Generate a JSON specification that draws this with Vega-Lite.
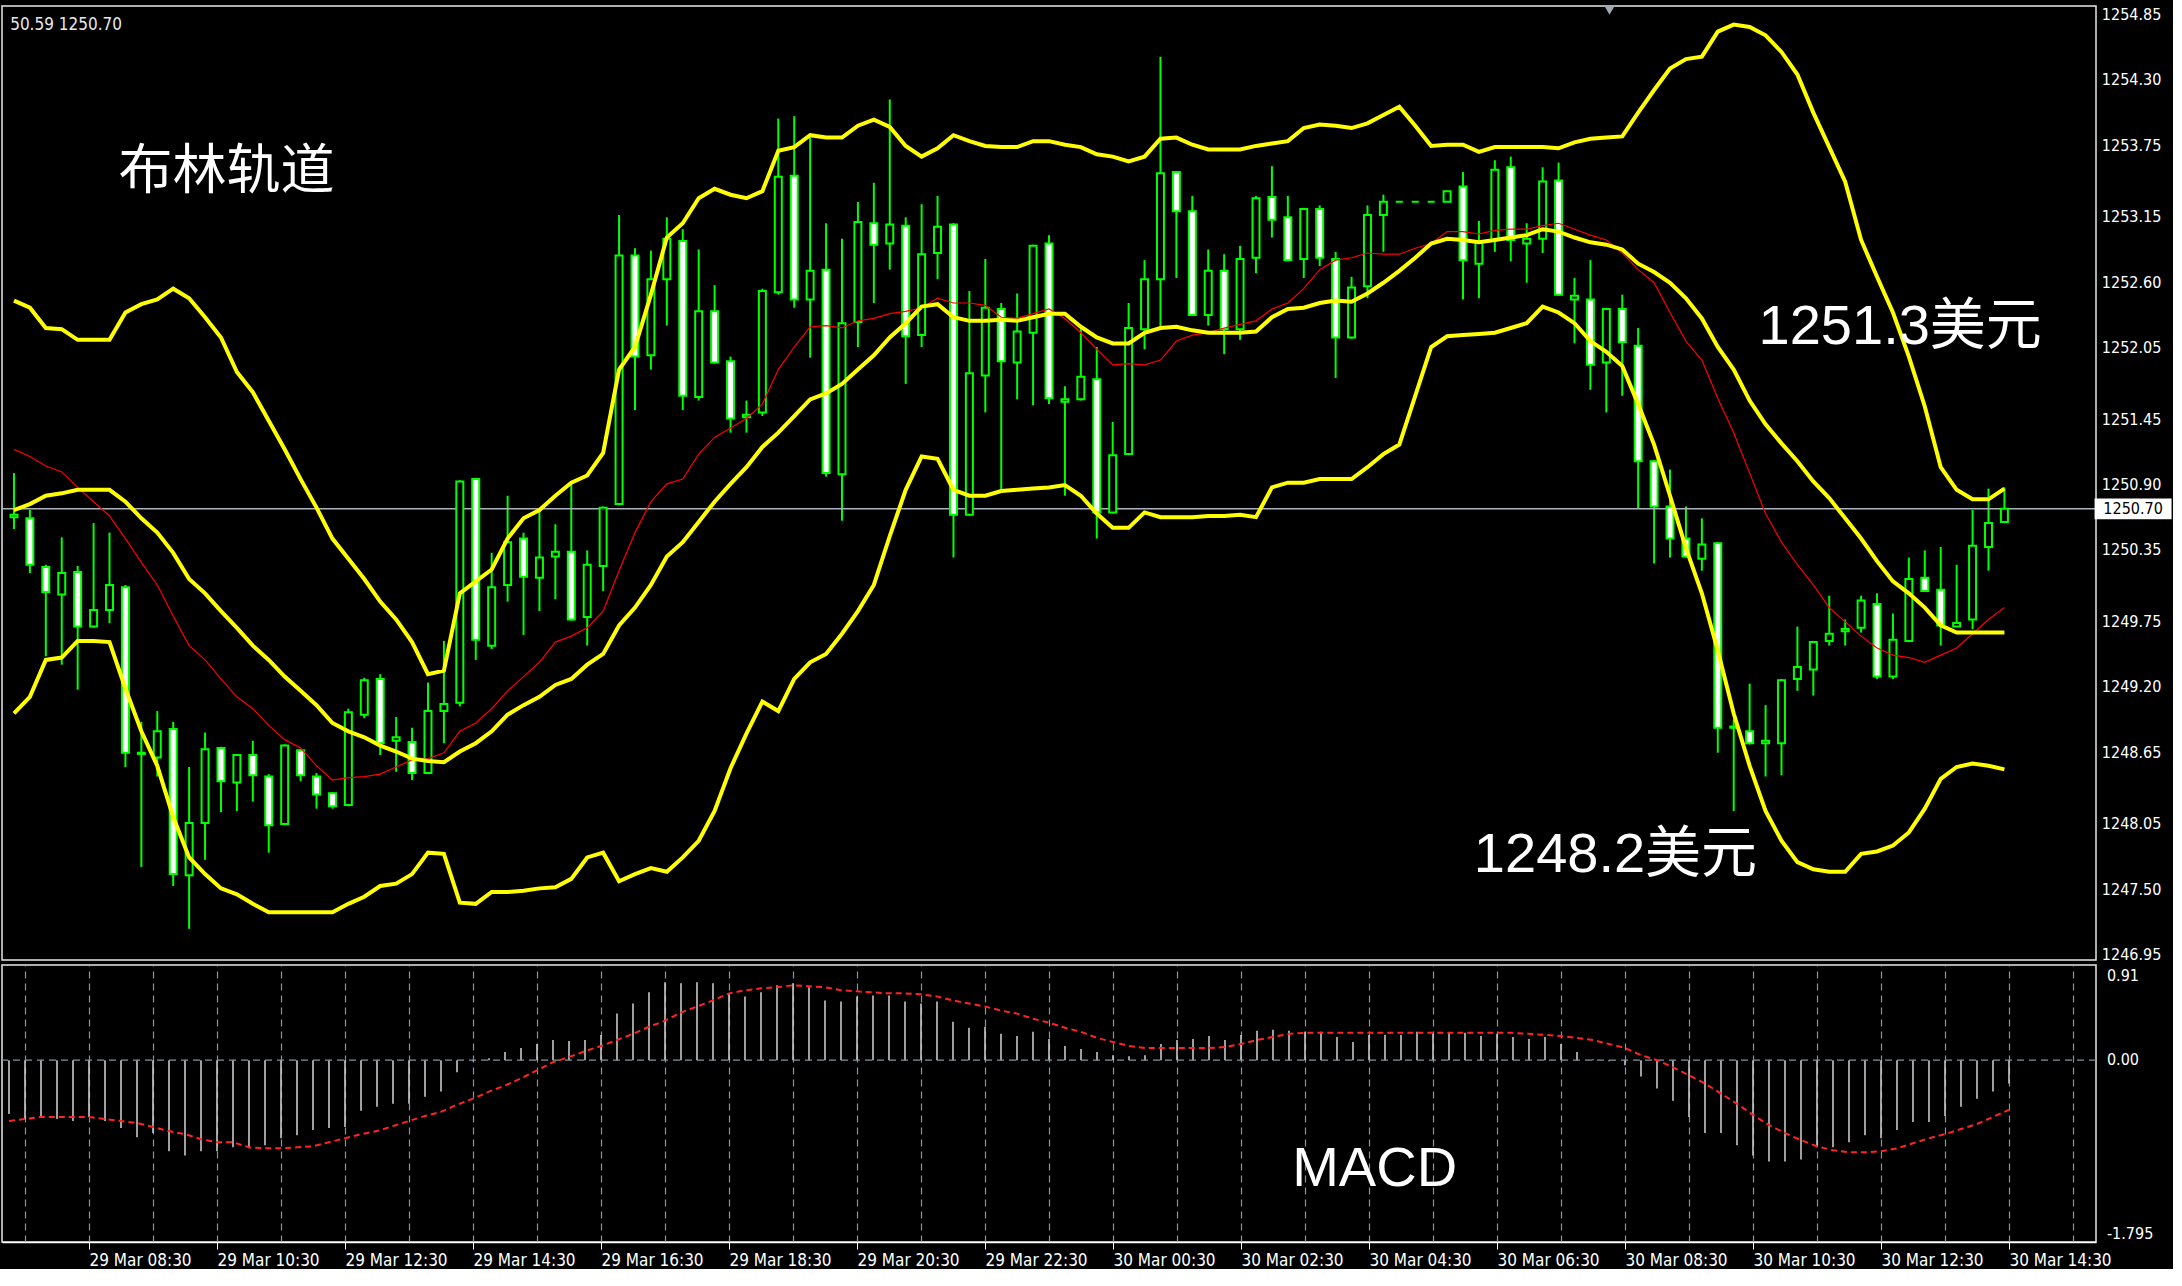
{
  "$schema": "https://vega.github.io/schema/vega-lite/v6.json",
  "background": "#000000",
  "padding": {"left": 0, "top": 4, "right": 0, "bottom": 0},
  "spacing": 5,
  "bounds": "flush",
  "config": {
    "view": {"stroke": "#e8e8e8", "strokeWidth": 1.5},
    "axis": {
      "labelColor": "#ffffff",
      "labelFont": "DejaVu Sans Condensed, DejaVu Sans",
      "labelFontSize": 16,
      "domainColor": "#ffffff",
      "domainWidth": 1.5,
      "tickColor": "#ffffff",
      "gridColor": "#8593a1",
      "gridDash": [7, 5],
      "gridWidth": 1.2
    }
  },
  "datasets": {
    "priceTicks": [
      {"price": 1254.85, "label": "1254.85"},
      {"price": 1254.30, "label": "1254.30"},
      {"price": 1253.75, "label": "1253.75"},
      {"price": 1253.15, "label": "1253.15"},
      {"price": 1252.60, "label": "1252.60"},
      {"price": 1252.05, "label": "1252.05"},
      {"price": 1251.45, "label": "1251.45"},
      {"price": 1250.90, "label": "1250.90"},
      {"price": 1250.35, "label": "1250.35"},
      {"price": 1249.75, "label": "1249.75"},
      {"price": 1249.20, "label": "1249.20"},
      {"price": 1248.65, "label": "1248.65"},
      {"price": 1248.05, "label": "1248.05"},
      {"price": 1247.50, "label": "1247.50"},
      {"price": 1246.95, "label": "1246.95"}
    ],
    "bars": [
      {"hour":7.25,"open":1250.63,"high":1251.00,"low":1250.53,"close":1250.65,"bbUp":1252.45,"bbMid":1250.69,"bbLow":1248.98,"ma":1251.20,"macd":-0.53,"signal":-0.60},
      {"hour":7.5,"open":1250.62,"high":1250.69,"low":1250.16,"close":1250.23,"bbUp":1252.39,"bbMid":1250.74,"bbLow":1249.12,"ma":1251.14,"macd":-0.58,"signal":-0.58},
      {"hour":7.75,"open":1250.21,"high":1250.23,"low":1249.46,"close":1250.00,"bbUp":1252.22,"bbMid":1250.81,"bbLow":1249.43,"ma":1251.06,"macd":-0.56,"signal":-0.56},
      {"hour":8.0,"open":1249.98,"high":1250.46,"low":1249.39,"close":1250.16,"bbUp":1252.21,"bbMid":1250.83,"bbLow":1249.45,"ma":1251.01,"macd":-0.58,"signal":-0.56},
      {"hour":8.25,"open":1250.17,"high":1250.22,"low":1249.18,"close":1249.71,"bbUp":1252.12,"bbMid":1250.86,"bbLow":1249.59,"ma":1250.88,"macd":-0.60,"signal":-0.56},
      {"hour":8.5,"open":1249.71,"high":1250.58,"low":1249.70,"close":1249.85,"bbUp":1252.12,"bbMid":1250.86,"bbLow":1249.59,"ma":1250.76,"macd":-0.56,"signal":-0.56},
      {"hour":8.75,"open":1249.85,"high":1250.50,"low":1249.74,"close":1250.06,"bbUp":1252.12,"bbMid":1250.86,"bbLow":1249.58,"ma":1250.64,"macd":-0.60,"signal":-0.58},
      {"hour":9.0,"open":1250.04,"high":1250.06,"low":1248.53,"close":1248.65,"bbUp":1252.35,"bbMid":1250.76,"bbLow":1249.19,"ma":1250.45,"macd":-0.67,"signal":-0.60},
      {"hour":9.25,"open":1248.64,"high":1248.91,"low":1247.69,"close":1248.65,"bbUp":1252.42,"bbMid":1250.62,"bbLow":1248.83,"ma":1250.25,"macd":-0.76,"signal":-0.62},
      {"hour":9.5,"open":1248.61,"high":1249.00,"low":1248.45,"close":1248.83,"bbUp":1252.46,"bbMid":1250.50,"bbLow":1248.54,"ma":1250.06,"macd":-0.72,"signal":-0.66},
      {"hour":9.75,"open":1248.85,"high":1248.91,"low":1247.53,"close":1247.63,"bbUp":1252.55,"bbMid":1250.33,"bbLow":1248.11,"ma":1249.80,"macd":-0.90,"signal":-0.70},
      {"hour":10.0,"open":1247.62,"high":1248.53,"low":1247.17,"close":1248.06,"bbUp":1252.47,"bbMid":1250.11,"bbLow":1247.77,"ma":1249.55,"macd":-0.94,"signal":-0.73},
      {"hour":10.25,"open":1248.06,"high":1248.82,"low":1247.75,"close":1248.68,"bbUp":1252.31,"bbMid":1249.99,"bbLow":1247.63,"ma":1249.43,"macd":-0.90,"signal":-0.78},
      {"hour":10.5,"open":1248.69,"high":1248.70,"low":1248.15,"close":1248.41,"bbUp":1252.14,"bbMid":1249.84,"bbLow":1247.51,"ma":1249.27,"macd":-0.90,"signal":-0.81},
      {"hour":10.75,"open":1248.40,"high":1248.64,"low":1248.16,"close":1248.63,"bbUp":1251.85,"bbMid":1249.70,"bbLow":1247.46,"ma":1249.12,"macd":-0.86,"signal":-0.81},
      {"hour":11.0,"open":1248.63,"high":1248.75,"low":1248.24,"close":1248.46,"bbUp":1251.68,"bbMid":1249.55,"bbLow":1247.38,"ma":1249.02,"macd":-0.87,"signal":-0.86},
      {"hour":11.25,"open":1248.45,"high":1248.47,"low":1247.81,"close":1248.04,"bbUp":1251.44,"bbMid":1249.43,"bbLow":1247.31,"ma":1248.88,"macd":-0.84,"signal":-0.87},
      {"hour":11.5,"open":1248.05,"high":1248.72,"low":1248.04,"close":1248.71,"bbUp":1251.20,"bbMid":1249.29,"bbLow":1247.31,"ma":1248.76,"macd":-0.77,"signal":-0.87},
      {"hour":11.75,"open":1248.67,"high":1248.68,"low":1248.41,"close":1248.46,"bbUp":1250.95,"bbMid":1249.17,"bbLow":1247.31,"ma":1248.69,"macd":-0.74,"signal":-0.86},
      {"hour":12.0,"open":1248.45,"high":1248.48,"low":1248.18,"close":1248.30,"bbUp":1250.71,"bbMid":1249.05,"bbLow":1247.31,"ma":1248.54,"macd":-0.69,"signal":-0.85},
      {"hour":12.25,"open":1248.31,"high":1248.32,"low":1248.18,"close":1248.20,"bbUp":1250.45,"bbMid":1248.90,"bbLow":1247.31,"ma":1248.42,"macd":-0.67,"signal":-0.81},
      {"hour":12.5,"open":1248.21,"high":1249.02,"low":1248.20,"close":1248.99,"bbUp":1250.28,"bbMid":1248.83,"bbLow":1247.38,"ma":1248.44,"macd":-0.66,"signal":-0.77},
      {"hour":12.75,"open":1248.97,"high":1249.28,"low":1248.94,"close":1249.26,"bbUp":1250.11,"bbMid":1248.78,"bbLow":1247.44,"ma":1248.45,"macd":-0.50,"signal":-0.73},
      {"hour":13.0,"open":1249.27,"high":1249.31,"low":1248.63,"close":1248.73,"bbUp":1249.92,"bbMid":1248.71,"bbLow":1247.53,"ma":1248.47,"macd":-0.46,"signal":-0.70},
      {"hour":13.25,"open":1248.75,"high":1248.95,"low":1248.49,"close":1248.78,"bbUp":1249.77,"bbMid":1248.66,"bbLow":1247.55,"ma":1248.53,"macd":-0.43,"signal":-0.65},
      {"hour":13.5,"open":1248.74,"high":1248.86,"low":1248.42,"close":1248.48,"bbUp":1249.58,"bbMid":1248.60,"bbLow":1247.63,"ma":1248.59,"macd":-0.43,"signal":-0.60},
      {"hour":13.75,"open":1248.48,"high":1249.24,"low":1248.47,"close":1249.00,"bbUp":1249.31,"bbMid":1248.58,"bbLow":1247.81,"ma":1248.60,"macd":-0.36,"signal":-0.55},
      {"hour":14.0,"open":1249.00,"high":1249.59,"low":1248.73,"close":1249.06,"bbUp":1249.34,"bbMid":1248.57,"bbLow":1247.80,"ma":1248.65,"macd":-0.31,"signal":-0.51},
      {"hour":14.25,"open":1249.07,"high":1250.94,"low":1249.04,"close":1250.93,"bbUp":1249.99,"bbMid":1248.66,"bbLow":1247.39,"ma":1248.83,"macd":-0.12,"signal":-0.44},
      {"hour":14.5,"open":1250.95,"high":1250.96,"low":1249.43,"close":1249.60,"bbUp":1250.09,"bbMid":1248.73,"bbLow":1247.38,"ma":1248.90,"macd":-0.01,"signal":-0.38},
      {"hour":14.75,"open":1249.55,"high":1250.33,"low":1249.52,"close":1250.04,"bbUp":1250.19,"bbMid":1248.83,"bbLow":1247.48,"ma":1249.02,"macd":0.02,"signal":-0.31},
      {"hour":15.0,"open":1250.06,"high":1250.81,"low":1249.92,"close":1250.42,"bbUp":1250.45,"bbMid":1248.97,"bbLow":1247.48,"ma":1249.17,"macd":0.08,"signal":-0.25},
      {"hour":15.25,"open":1250.45,"high":1250.50,"low":1249.64,"close":1250.13,"bbUp":1250.62,"bbMid":1249.05,"bbLow":1247.49,"ma":1249.29,"macd":0.12,"signal":-0.18},
      {"hour":15.5,"open":1250.12,"high":1250.70,"low":1249.84,"close":1250.29,"bbUp":1250.69,"bbMid":1249.12,"bbLow":1247.51,"ma":1249.41,"macd":0.16,"signal":-0.10},
      {"hour":15.75,"open":1250.30,"high":1250.57,"low":1249.94,"close":1250.34,"bbUp":1250.81,"bbMid":1249.22,"bbLow":1247.52,"ma":1249.58,"macd":0.20,"signal":-0.02},
      {"hour":16.0,"open":1250.34,"high":1250.93,"low":1249.76,"close":1249.77,"bbUp":1250.92,"bbMid":1249.27,"bbLow":1247.59,"ma":1249.63,"macd":0.19,"signal":0.03},
      {"hour":16.25,"open":1249.79,"high":1250.35,"low":1249.55,"close":1250.23,"bbUp":1250.98,"bbMid":1249.39,"bbLow":1247.77,"ma":1249.70,"macd":0.20,"signal":0.09},
      {"hour":16.5,"open":1250.22,"high":1250.72,"low":1250.01,"close":1250.71,"bbUp":1251.17,"bbMid":1249.48,"bbLow":1247.81,"ma":1249.84,"macd":0.25,"signal":0.14},
      {"hour":16.75,"open":1250.74,"high":1253.17,"low":1250.73,"close":1252.83,"bbUp":1251.87,"bbMid":1249.72,"bbLow":1247.57,"ma":1250.18,"macd":0.46,"signal":0.20},
      {"hour":17.0,"open":1252.83,"high":1252.89,"low":1251.53,"close":1251.98,"bbUp":1252.06,"bbMid":1249.87,"bbLow":1247.63,"ma":1250.50,"macd":0.56,"signal":0.26},
      {"hour":17.25,"open":1251.99,"high":1252.87,"low":1251.87,"close":1252.63,"bbUp":1252.50,"bbMid":1250.06,"bbLow":1247.68,"ma":1250.76,"macd":0.67,"signal":0.33},
      {"hour":17.5,"open":1252.63,"high":1253.15,"low":1252.24,"close":1252.97,"bbUp":1252.98,"bbMid":1250.30,"bbLow":1247.65,"ma":1250.91,"macd":0.77,"signal":0.39},
      {"hour":17.75,"open":1252.95,"high":1253.05,"low":1251.53,"close":1251.65,"bbUp":1253.10,"bbMid":1250.42,"bbLow":1247.77,"ma":1250.95,"macd":0.76,"signal":0.47},
      {"hour":18.0,"open":1251.64,"high":1252.88,"low":1251.61,"close":1252.36,"bbUp":1253.31,"bbMid":1250.59,"bbLow":1247.91,"ma":1251.16,"macd":0.77,"signal":0.53},
      {"hour":18.25,"open":1252.36,"high":1252.58,"low":1251.92,"close":1251.93,"bbUp":1253.39,"bbMid":1250.76,"bbLow":1248.16,"ma":1251.30,"macd":0.76,"signal":0.59},
      {"hour":18.5,"open":1251.94,"high":1251.98,"low":1251.34,"close":1251.46,"bbUp":1253.34,"bbMid":1250.91,"bbLow":1248.52,"ma":1251.38,"macd":0.66,"signal":0.66},
      {"hour":18.75,"open":1251.47,"high":1251.61,"low":1251.34,"close":1251.49,"bbUp":1253.31,"bbMid":1251.05,"bbLow":1248.81,"ma":1251.46,"macd":0.63,"signal":0.69},
      {"hour":19.0,"open":1251.51,"high":1252.55,"low":1251.48,"close":1252.53,"bbUp":1253.37,"bbMid":1251.22,"bbLow":1249.08,"ma":1251.58,"macd":0.67,"signal":0.71},
      {"hour":19.25,"open":1252.52,"high":1253.98,"low":1252.50,"close":1253.49,"bbUp":1253.71,"bbMid":1251.34,"bbLow":1249.00,"ma":1251.87,"macd":0.74,"signal":0.72},
      {"hour":19.5,"open":1253.50,"high":1254.00,"low":1252.39,"close":1252.46,"bbUp":1253.74,"bbMid":1251.48,"bbLow":1249.27,"ma":1252.06,"macd":0.76,"signal":0.74},
      {"hour":19.75,"open":1252.46,"high":1253.82,"low":1251.97,"close":1252.70,"bbUp":1253.84,"bbMid":1251.62,"bbLow":1249.41,"ma":1252.23,"macd":0.72,"signal":0.73},
      {"hour":20.0,"open":1252.71,"high":1253.10,"low":1250.97,"close":1251.00,"bbUp":1253.82,"bbMid":1251.67,"bbLow":1249.48,"ma":1252.24,"macd":0.59,"signal":0.72},
      {"hour":20.25,"open":1250.99,"high":1252.97,"low":1250.60,"close":1252.26,"bbUp":1253.82,"bbMid":1251.75,"bbLow":1249.65,"ma":1252.22,"macd":0.58,"signal":0.69},
      {"hour":20.5,"open":1252.27,"high":1253.28,"low":1252.06,"close":1253.11,"bbUp":1253.92,"bbMid":1251.87,"bbLow":1249.84,"ma":1252.28,"macd":0.63,"signal":0.68},
      {"hour":20.75,"open":1253.10,"high":1253.44,"low":1252.43,"close":1252.92,"bbUp":1253.97,"bbMid":1251.99,"bbLow":1250.06,"ma":1252.30,"macd":0.64,"signal":0.67},
      {"hour":21.0,"open":1252.93,"high":1254.14,"low":1252.71,"close":1253.09,"bbUp":1253.91,"bbMid":1252.14,"bbLow":1250.47,"ma":1252.34,"macd":0.64,"signal":0.66},
      {"hour":21.25,"open":1253.08,"high":1253.15,"low":1251.75,"close":1252.15,"bbUp":1253.75,"bbMid":1252.26,"bbLow":1250.86,"ma":1252.36,"macd":0.58,"signal":0.66},
      {"hour":21.5,"open":1252.16,"high":1253.26,"low":1252.06,"close":1252.84,"bbUp":1253.66,"bbMid":1252.40,"bbLow":1251.14,"ma":1252.39,"macd":0.56,"signal":0.65},
      {"hour":21.75,"open":1252.85,"high":1253.33,"low":1252.63,"close":1253.07,"bbUp":1253.73,"bbMid":1252.42,"bbLow":1251.12,"ma":1252.47,"macd":0.58,"signal":0.63},
      {"hour":22.0,"open":1253.09,"high":1253.10,"low":1250.29,"close":1250.65,"bbUp":1253.84,"bbMid":1252.31,"bbLow":1250.86,"ma":1252.43,"macd":0.38,"signal":0.59},
      {"hour":22.25,"open":1250.65,"high":1252.53,"low":1250.64,"close":1251.84,"bbUp":1253.79,"bbMid":1252.28,"bbLow":1250.81,"ma":1252.43,"macd":0.32,"signal":0.56},
      {"hour":22.5,"open":1251.82,"high":1252.80,"low":1251.51,"close":1252.39,"bbUp":1253.75,"bbMid":1252.28,"bbLow":1250.81,"ma":1252.41,"macd":0.33,"signal":0.53},
      {"hour":22.75,"open":1252.38,"high":1252.43,"low":1250.86,"close":1251.94,"bbUp":1253.74,"bbMid":1252.29,"bbLow":1250.85,"ma":1252.31,"macd":0.26,"signal":0.49},
      {"hour":23.0,"open":1251.93,"high":1252.51,"low":1251.62,"close":1252.19,"bbUp":1253.74,"bbMid":1252.28,"bbLow":1250.86,"ma":1252.30,"macd":0.24,"signal":0.46},
      {"hour":23.25,"open":1252.18,"high":1252.92,"low":1251.57,"close":1252.91,"bbUp":1253.79,"bbMid":1252.31,"bbLow":1250.87,"ma":1252.34,"macd":0.28,"signal":0.41},
      {"hour":23.5,"open":1252.93,"high":1253.00,"low":1251.58,"close":1251.63,"bbUp":1253.79,"bbMid":1252.34,"bbLow":1250.88,"ma":1252.38,"macd":0.21,"signal":0.37},
      {"hour":23.75,"open":1251.60,"high":1251.73,"low":1250.81,"close":1251.62,"bbUp":1253.76,"bbMid":1252.34,"bbLow":1250.90,"ma":1252.30,"macd":0.14,"signal":0.32},
      {"hour":24.0,"open":1251.62,"high":1252.21,"low":1251.61,"close":1251.81,"bbUp":1253.74,"bbMid":1252.23,"bbLow":1250.81,"ma":1252.18,"macd":0.11,"signal":0.28},
      {"hour":24.25,"open":1251.79,"high":1252.06,"low":1250.45,"close":1250.67,"bbUp":1253.68,"bbMid":1252.14,"bbLow":1250.66,"ma":1252.04,"macd":0.08,"signal":0.22},
      {"hour":24.5,"open":1250.67,"high":1251.43,"low":1250.66,"close":1251.15,"bbUp":1253.66,"bbMid":1252.09,"bbLow":1250.54,"ma":1251.91,"macd":0.05,"signal":0.18},
      {"hour":24.75,"open":1251.16,"high":1252.43,"low":1251.15,"close":1252.22,"bbUp":1253.62,"bbMid":1252.09,"bbLow":1250.54,"ma":1251.92,"macd":0.04,"signal":0.14},
      {"hour":25.0,"open":1252.21,"high":1252.79,"low":1252.04,"close":1252.63,"bbUp":1253.66,"bbMid":1252.18,"bbLow":1250.67,"ma":1251.91,"macd":0.05,"signal":0.12},
      {"hour":25.25,"open":1252.63,"high":1254.50,"low":1252.23,"close":1253.52,"bbUp":1253.81,"bbMid":1252.22,"bbLow":1250.63,"ma":1251.95,"macd":0.16,"signal":0.12},
      {"hour":25.5,"open":1253.53,"high":1253.54,"low":1252.64,"close":1253.20,"bbUp":1253.82,"bbMid":1252.23,"bbLow":1250.63,"ma":1252.11,"macd":0.20,"signal":0.12},
      {"hour":25.75,"open":1253.20,"high":1253.33,"low":1252.32,"close":1252.33,"bbUp":1253.76,"bbMid":1252.20,"bbLow":1250.63,"ma":1252.16,"macd":0.21,"signal":0.12},
      {"hour":26.0,"open":1252.33,"high":1252.88,"low":1252.24,"close":1252.70,"bbUp":1253.72,"bbMid":1252.18,"bbLow":1250.64,"ma":1252.18,"macd":0.24,"signal":0.12},
      {"hour":26.25,"open":1252.70,"high":1252.84,"low":1252.00,"close":1252.21,"bbUp":1253.72,"bbMid":1252.18,"bbLow":1250.64,"ma":1252.22,"macd":0.20,"signal":0.13},
      {"hour":26.5,"open":1252.21,"high":1252.91,"low":1252.12,"close":1252.80,"bbUp":1253.72,"bbMid":1252.18,"bbLow":1250.65,"ma":1252.25,"macd":0.25,"signal":0.16},
      {"hour":26.75,"open":1252.81,"high":1253.33,"low":1252.68,"close":1253.31,"bbUp":1253.75,"bbMid":1252.19,"bbLow":1250.63,"ma":1252.28,"macd":0.29,"signal":0.20},
      {"hour":27.0,"open":1253.32,"high":1253.58,"low":1252.98,"close":1253.13,"bbUp":1253.77,"bbMid":1252.31,"bbLow":1250.88,"ma":1252.38,"macd":0.30,"signal":0.23},
      {"hour":27.25,"open":1253.15,"high":1253.33,"low":1252.78,"close":1252.79,"bbUp":1253.79,"bbMid":1252.38,"bbLow":1250.92,"ma":1252.43,"macd":0.29,"signal":0.26},
      {"hour":27.5,"open":1252.80,"high":1253.23,"low":1252.64,"close":1253.22,"bbUp":1253.90,"bbMid":1252.39,"bbLow":1250.92,"ma":1252.55,"macd":0.28,"signal":0.27},
      {"hour":27.75,"open":1253.22,"high":1253.25,"low":1252.74,"close":1252.81,"bbUp":1253.93,"bbMid":1252.43,"bbLow":1250.95,"ma":1252.71,"macd":0.28,"signal":0.27},
      {"hour":28.0,"open":1252.80,"high":1252.86,"low":1251.80,"close":1252.14,"bbUp":1253.92,"bbMid":1252.45,"bbLow":1250.95,"ma":1252.79,"macd":0.23,"signal":0.27},
      {"hour":28.25,"open":1252.14,"high":1252.65,"low":1252.13,"close":1252.56,"bbUp":1253.90,"bbMid":1252.44,"bbLow":1250.95,"ma":1252.81,"macd":0.18,"signal":0.27},
      {"hour":28.5,"open":1252.57,"high":1253.25,"low":1252.47,"close":1253.17,"bbUp":1253.94,"bbMid":1252.51,"bbLow":1251.05,"ma":1252.85,"macd":0.25,"signal":0.27},
      {"hour":28.75,"open":1253.17,"high":1253.34,"low":1252.86,"close":1253.28,"bbUp":1254.01,"bbMid":1252.60,"bbLow":1251.16,"ma":1252.84,"macd":0.25,"signal":0.27},
      {"hour":29.0,"open":1253.28,"high":1253.28,"low":1253.28,"close":1253.28,"bbUp":1254.08,"bbMid":1252.70,"bbLow":1251.24,"ma":1252.84,"macd":0.25,"signal":0.27},
      {"hour":29.25,"open":1253.28,"high":1253.28,"low":1253.28,"close":1253.28,"bbUp":1253.92,"bbMid":1252.81,"bbLow":1251.65,"ma":1252.89,"macd":0.28,"signal":0.27},
      {"hour":29.5,"open":1253.28,"high":1253.28,"low":1253.28,"close":1253.28,"bbUp":1253.75,"bbMid":1252.93,"bbLow":1252.06,"ma":1252.93,"macd":0.26,"signal":0.27},
      {"hour":29.75,"open":1253.28,"high":1253.37,"low":1253.28,"close":1253.37,"bbUp":1253.76,"bbMid":1252.97,"bbLow":1252.15,"ma":1253.03,"macd":0.27,"signal":0.27},
      {"hour":30.0,"open":1253.41,"high":1253.53,"low":1252.46,"close":1252.79,"bbUp":1253.76,"bbMid":1252.96,"bbLow":1252.16,"ma":1253.03,"macd":0.27,"signal":0.27},
      {"hour":30.25,"open":1252.76,"high":1253.12,"low":1252.47,"close":1252.94,"bbUp":1253.70,"bbMid":1252.94,"bbLow":1252.17,"ma":1253.01,"macd":0.24,"signal":0.27},
      {"hour":30.5,"open":1252.96,"high":1253.63,"low":1252.86,"close":1253.55,"bbUp":1253.74,"bbMid":1252.96,"bbLow":1252.18,"ma":1253.04,"macd":0.26,"signal":0.27},
      {"hour":30.75,"open":1253.57,"high":1253.66,"low":1252.78,"close":1252.96,"bbUp":1253.74,"bbMid":1252.98,"bbLow":1252.22,"ma":1253.05,"macd":0.23,"signal":0.27},
      {"hour":31.0,"open":1252.93,"high":1253.10,"low":1252.60,"close":1252.97,"bbUp":1253.74,"bbMid":1253.00,"bbLow":1252.26,"ma":1253.05,"macd":0.21,"signal":0.26},
      {"hour":31.25,"open":1252.97,"high":1253.57,"low":1252.85,"close":1253.45,"bbUp":1253.74,"bbMid":1253.05,"bbLow":1252.40,"ma":1253.08,"macd":0.23,"signal":0.25},
      {"hour":31.5,"open":1253.46,"high":1253.61,"low":1252.49,"close":1252.50,"bbUp":1253.73,"bbMid":1253.03,"bbLow":1252.35,"ma":1253.10,"macd":0.16,"signal":0.24},
      {"hour":31.75,"open":1252.46,"high":1252.64,"low":1252.09,"close":1252.49,"bbUp":1253.78,"bbMid":1252.98,"bbLow":1252.26,"ma":1253.05,"macd":0.08,"signal":0.22},
      {"hour":32.0,"open":1252.46,"high":1252.79,"low":1251.70,"close":1251.91,"bbUp":1253.81,"bbMid":1252.94,"bbLow":1252.11,"ma":1253.00,"macd":0.01,"signal":0.20},
      {"hour":32.25,"open":1251.93,"high":1252.39,"low":1251.51,"close":1252.38,"bbUp":1253.82,"bbMid":1252.92,"bbLow":1252.02,"ma":1252.96,"macd":-0.01,"signal":0.16},
      {"hour":32.5,"open":1252.38,"high":1252.50,"low":1251.65,"close":1252.10,"bbUp":1253.83,"bbMid":1252.88,"bbLow":1251.90,"ma":1252.85,"macd":-0.05,"signal":0.12},
      {"hour":32.75,"open":1252.07,"high":1252.22,"low":1250.70,"close":1251.10,"bbUp":1254.03,"bbMid":1252.76,"bbLow":1251.58,"ma":1252.71,"macd":-0.16,"signal":0.05},
      {"hour":33.0,"open":1251.10,"high":1251.11,"low":1250.24,"close":1250.72,"bbUp":1254.22,"bbMid":1252.69,"bbLow":1251.24,"ma":1252.60,"macd":-0.28,"signal":0.00},
      {"hour":33.25,"open":1250.72,"high":1251.03,"low":1250.29,"close":1250.45,"bbUp":1254.40,"bbMid":1252.60,"bbLow":1250.81,"ma":1252.35,"macd":-0.40,"signal":-0.07},
      {"hour":33.5,"open":1250.45,"high":1250.72,"low":1250.29,"close":1250.30,"bbUp":1254.48,"bbMid":1252.47,"bbLow":1250.37,"ma":1252.11,"macd":-0.56,"signal":-0.15},
      {"hour":33.75,"open":1250.28,"high":1250.62,"low":1250.18,"close":1250.40,"bbUp":1254.50,"bbMid":1252.30,"bbLow":1249.99,"ma":1251.95,"macd":-0.72,"signal":-0.23},
      {"hour":34.0,"open":1250.41,"high":1250.42,"low":1248.65,"close":1248.86,"bbUp":1254.71,"bbMid":1252.06,"bbLow":1249.51,"ma":1251.63,"macd":-0.72,"signal":-0.33},
      {"hour":34.25,"open":1248.86,"high":1248.93,"low":1248.16,"close":1248.87,"bbUp":1254.77,"bbMid":1251.87,"bbLow":1248.98,"ma":1251.34,"macd":-0.84,"signal":-0.43},
      {"hour":34.5,"open":1248.83,"high":1249.23,"low":1248.72,"close":1248.73,"bbUp":1254.75,"bbMid":1251.61,"bbLow":1248.54,"ma":1251.00,"macd":-0.94,"signal":-0.54},
      {"hour":34.75,"open":1248.73,"high":1249.05,"low":1248.45,"close":1248.75,"bbUp":1254.68,"bbMid":1251.41,"bbLow":1248.16,"ma":1250.66,"macd":-1.00,"signal":-0.64},
      {"hour":35.0,"open":1248.73,"high":1249.27,"low":1248.46,"close":1249.26,"bbUp":1254.54,"bbMid":1251.25,"bbLow":1247.91,"ma":1250.42,"macd":-1.00,"signal":-0.72},
      {"hour":35.25,"open":1249.27,"high":1249.71,"low":1249.17,"close":1249.37,"bbUp":1254.35,"bbMid":1251.10,"bbLow":1247.73,"ma":1250.23,"macd":-0.98,"signal":-0.79},
      {"hour":35.5,"open":1249.35,"high":1249.59,"low":1249.13,"close":1249.58,"bbUp":1254.03,"bbMid":1250.93,"bbLow":1247.67,"ma":1250.06,"macd":-0.86,"signal":-0.85},
      {"hour":35.75,"open":1249.59,"high":1249.97,"low":1249.55,"close":1249.65,"bbUp":1253.74,"bbMid":1250.79,"bbLow":1247.65,"ma":1249.87,"macd":-0.86,"signal":-0.89},
      {"hour":36.0,"open":1249.67,"high":1249.77,"low":1249.55,"close":1249.69,"bbUp":1253.45,"bbMid":1250.62,"bbLow":1247.65,"ma":1249.75,"macd":-0.81,"signal":-0.91},
      {"hour":36.25,"open":1249.70,"high":1249.97,"low":1249.66,"close":1249.93,"bbUp":1252.96,"bbMid":1250.45,"bbLow":1247.80,"ma":1249.63,"macd":-0.74,"signal":-0.91},
      {"hour":36.5,"open":1249.90,"high":1249.99,"low":1249.27,"close":1249.29,"bbUp":1252.65,"bbMid":1250.26,"bbLow":1247.82,"ma":1249.53,"macd":-0.77,"signal":-0.90},
      {"hour":36.75,"open":1249.29,"high":1249.82,"low":1249.27,"close":1249.60,"bbUp":1252.35,"bbMid":1250.09,"bbLow":1247.87,"ma":1249.47,"macd":-0.69,"signal":-0.87},
      {"hour":37.0,"open":1249.59,"high":1250.29,"low":1249.59,"close":1250.11,"bbUp":1251.98,"bbMid":1249.99,"bbLow":1247.98,"ma":1249.45,"macd":-0.61,"signal":-0.82},
      {"hour":37.25,"open":1250.12,"high":1250.35,"low":1250.01,"close":1250.01,"bbUp":1251.56,"bbMid":1249.87,"bbLow":1248.18,"ma":1249.41,"macd":-0.61,"signal":-0.77},
      {"hour":37.5,"open":1250.02,"high":1250.38,"low":1249.55,"close":1249.72,"bbUp":1251.05,"bbMid":1249.72,"bbLow":1248.43,"ma":1249.47,"macd":-0.55,"signal":-0.73},
      {"hour":37.75,"open":1249.71,"high":1250.23,"low":1249.71,"close":1249.74,"bbUp":1250.86,"bbMid":1249.66,"bbLow":1248.53,"ma":1249.53,"macd":-0.46,"signal":-0.68},
      {"hour":38.0,"open":1249.77,"high":1250.69,"low":1249.69,"close":1250.39,"bbUp":1250.78,"bbMid":1249.66,"bbLow":1248.56,"ma":1249.65,"macd":-0.38,"signal":-0.63},
      {"hour":38.25,"open":1250.38,"high":1250.87,"low":1250.18,"close":1250.58,"bbUp":1250.78,"bbMid":1249.66,"bbLow":1248.54,"ma":1249.77,"macd":-0.31,"signal":-0.56},
      {"hour":38.5,"open":1250.59,"high":1250.88,"low":1250.58,"close":1250.70,"bbUp":1250.87,"bbMid":1249.66,"bbLow":1248.51,"ma":1249.87,"macd":-0.23,"signal":-0.49}
    ]
  },
  "vconcat": [
    {
      "width": 2094,
      "height": 954,
      "data": {"name": "bars"},
      "layer": [
        {
          "mark": {"type": "rule", "color": "#00ff00", "strokeWidth": 2},
          "encoding": {
            "x": {"field": "hour", "type": "quantitative", "scale": {"domain": [7.1406, 39.8594], "nice": false, "zero": false},
              "axis": {"orient": "top", "values": [7.5,8.5,9.5,10.5,11.5,12.5,13.5,14.5,15.5,16.5,17.5,18.5,19.5,20.5,21.5,22.5,23.5,24.5,25.5,26.5,27.5,28.5,29.5,30.5,31.5,32.5,33.5,34.5,35.5,36.5,37.5,38.5,39.5], "grid": true, "labels": false, "ticks": false, "domain": false, "title": null}},
            "y": {"field": "low", "type": "quantitative", "scale": {"domain": [1246.908, 1254.926], "nice": false, "zero": false},
              "axis": {"orient": "right", "values": [1254.85,1254.30,1253.75,1253.15,1252.60,1252.05,1251.45,1250.90,1250.35,1249.75,1249.20,1248.65,1248.05,1247.50,1246.95], "grid": true, "labels": false, "ticks": true, "tickSize": 6, "domain": true, "title": null}},
            "y2": {"field": "high"}
          }
        },
        {
          "data": {"values": [{"price": 1250.70}]},
          "mark": {"type": "rule", "color": "#aab4be", "strokeWidth": 1.5},
          "encoding": {
            "y": {"field": "price", "type": "quantitative", "scale": {"domain": [1246.908, 1254.926], "nice": false, "zero": false}, "axis": null}
          }
        },
        {
          "mark": {"type": "bar", "size": 7, "stroke": "#00ff00", "strokeWidth": 2},
          "encoding": {
            "x": {"field": "hour", "type": "quantitative", "scale": {"domain": [7.1406, 39.8594], "nice": false, "zero": false}, "axis": null},
            "y": {"field": "open", "type": "quantitative", "scale": {"domain": [1246.908, 1254.926], "nice": false, "zero": false}, "axis": null},
            "y2": {"field": "close"},
            "fill": {"condition": {"test": "datum.open > datum.close", "value": "#ffffff"}, "value": "#000000"}
          }
        },
        {
          "mark": {"type": "line", "color": "#ff0000", "strokeWidth": 1.2},
          "encoding": {
            "x": {"field": "hour", "type": "quantitative", "scale": {"domain": [7.1406, 39.8594], "nice": false, "zero": false}, "axis": null},
            "y": {"field": "ma", "type": "quantitative", "scale": {"domain": [1246.908, 1254.926], "nice": false, "zero": false}, "axis": null}
          }
        },
        {
          "mark": {"type": "line", "color": "#ffff00", "strokeWidth": 4},
          "encoding": {
            "x": {"field": "hour", "type": "quantitative", "scale": {"domain": [7.1406, 39.8594], "nice": false, "zero": false}, "axis": null},
            "y": {"field": "bbUp", "type": "quantitative", "scale": {"domain": [1246.908, 1254.926], "nice": false, "zero": false}, "axis": null}
          }
        },
        {
          "mark": {"type": "line", "color": "#ffff00", "strokeWidth": 4},
          "encoding": {
            "x": {"field": "hour", "type": "quantitative", "scale": {"domain": [7.1406, 39.8594], "nice": false, "zero": false}, "axis": null},
            "y": {"field": "bbMid", "type": "quantitative", "scale": {"domain": [1246.908, 1254.926], "nice": false, "zero": false}, "axis": null}
          }
        },
        {
          "mark": {"type": "line", "color": "#ffff00", "strokeWidth": 4},
          "encoding": {
            "x": {"field": "hour", "type": "quantitative", "scale": {"domain": [7.1406, 39.8594], "nice": false, "zero": false}, "axis": null},
            "y": {"field": "bbLow", "type": "quantitative", "scale": {"domain": [1246.908, 1254.926], "nice": false, "zero": false}, "axis": null}
          }
        },
        {
          "data": {"name": "priceTicks"},
          "mark": {"type": "text", "align": "left", "baseline": "middle", "font": "DejaVu Sans Condensed, DejaVu Sans", "fontSize": 16, "color": "#ffffff", "clip": false},
          "encoding": {
            "x": {"datum": 40.03, "type": "quantitative", "scale": {"domain": [7.1406, 39.8594], "nice": false, "zero": false}, "axis": null},
            "y": {"field": "price", "type": "quantitative", "scale": {"domain": [1246.908, 1254.926], "nice": false, "zero": false}, "axis": null},
            "text": {"field": "label"}
          }
        },
        {
          "data": {"values": [{"label": "布林轨道", "hour": 8.89, "price": 1253.52}]},
          "mark": {"type": "text", "align": "left", "baseline": "middle", "font": "Noto Sans CJK SC", "fontSize": 54, "color": "#ffffff"},
          "encoding": {
            "x": {"field": "hour", "type": "quantitative", "scale": {"domain": [7.1406, 39.8594], "nice": false, "zero": false}, "axis": null},
            "y": {"field": "price", "type": "quantitative", "scale": {"domain": [1246.908, 1254.926], "nice": false, "zero": false}, "axis": null},
            "text": {"field": "label"}
          }
        },
        {
          "data": {"values": [{"label": "1251.3美元", "hour": 34.64, "price": 1252.23}, {"label": "1248.2美元", "hour": 30.17, "price": 1247.79}]},
          "mark": {"type": "text", "align": "left", "baseline": "middle", "font": "Liberation Sans, Noto Sans CJK SC", "fontSize": 56, "color": "#ffffff"},
          "encoding": {
            "x": {"field": "hour", "type": "quantitative", "scale": {"domain": [7.1406, 39.8594], "nice": false, "zero": false}, "axis": null},
            "y": {"field": "price", "type": "quantitative", "scale": {"domain": [1246.908, 1254.926], "nice": false, "zero": false}, "axis": null},
            "text": {"field": "label"}
          }
        },
        {
          "data": {"values": [{"label": "50.59 1250.70", "hour": 7.19, "price": 1254.77}]},
          "mark": {"type": "text", "align": "left", "baseline": "middle", "font": "DejaVu Sans Condensed, DejaVu Sans", "fontSize": 17, "color": "#e8e8e8"},
          "encoding": {
            "x": {"field": "hour", "type": "quantitative", "scale": {"domain": [7.1406, 39.8594], "nice": false, "zero": false}, "axis": null},
            "y": {"field": "price", "type": "quantitative", "scale": {"domain": [1246.908, 1254.926], "nice": false, "zero": false}, "axis": null},
            "text": {"field": "label"}
          }
        },
        {
          "data": {"values": [{"hour": 32.30, "price": 1254.89}]},
          "mark": {"type": "point", "shape": "triangle-down", "filled": true, "size": 110, "color": "#a0a8b0", "opacity": 1},
          "encoding": {
            "x": {"field": "hour", "type": "quantitative", "scale": {"domain": [7.1406, 39.8594], "nice": false, "zero": false}, "axis": null},
            "y": {"field": "price", "type": "quantitative", "scale": {"domain": [1246.908, 1254.926], "nice": false, "zero": false}, "axis": null}
          }
        },
        {
          "data": {"values": [{"price": 1250.70, "label": "1250.70"}]},
          "mark": {"type": "point", "shape": "M-1,-0.27H1V0.27H-1Z", "filled": true, "size": 5929, "color": "#ffffff", "opacity": 1, "clip": false},
          "encoding": {
            "x": {"datum": 40.52, "type": "quantitative", "scale": {"domain": [7.1406, 39.8594], "nice": false, "zero": false}, "axis": null},
            "y": {"field": "price", "type": "quantitative", "scale": {"domain": [1246.908, 1254.926], "nice": false, "zero": false}, "axis": null}
          }
        },
        {
          "data": {"values": [{"price": 1250.70, "label": "1250.70"}]},
          "mark": {"type": "text", "align": "center", "baseline": "middle", "font": "DejaVu Sans Condensed, DejaVu Sans", "fontSize": 16, "color": "#000000", "clip": false},
          "encoding": {
            "x": {"datum": 40.52, "type": "quantitative", "scale": {"domain": [7.1406, 39.8594], "nice": false, "zero": false}, "axis": null},
            "y": {"field": "price", "type": "quantitative", "scale": {"domain": [1246.908, 1254.926], "nice": false, "zero": false}, "axis": null},
            "text": {"field": "label"}
          }
        }
      ]
    },
    {
      "width": 2094,
      "height": 277,
      "data": {"name": "bars"},
      "resolve": {"axis": {"x": "independent"}},
      "layer": [
        {
          "mark": {"type": "rule", "color": "#c8c8c8", "strokeWidth": 1.6},
          "encoding": {
            "x": {"field": "hour", "type": "quantitative", "scale": {"domain": [7.1406, 39.8594], "nice": false, "zero": false},
              "axis": {"orient": "top", "values": [7.5,8.5,9.5,10.5,11.5,12.5,13.5,14.5,15.5,16.5,17.5,18.5,19.5,20.5,21.5,22.5,23.5,24.5,25.5,26.5,27.5,28.5,29.5,30.5,31.5,32.5,33.5,34.5,35.5,36.5,37.5,38.5,39.5], "grid": true, "labels": false, "ticks": false, "domain": false, "title": null}},
            "y": {"field": "macd", "type": "quantitative", "scale": {"domain": [-1.795, 0.94], "nice": false, "zero": false},
              "axis": {"orient": "right", "values": [0.91, 0, -1.795], "grid": false, "labels": false, "ticks": true, "tickSize": 6, "domain": true, "title": null}},
            "y2": {"datum": 0}
          }
        },
        {
          "data": {"values": [{"level": 0}]},
          "mark": {"type": "rule", "color": "#8593a1", "strokeWidth": 1.2, "strokeDash": [7, 5]},
          "encoding": {
            "y": {"field": "level", "type": "quantitative", "scale": {"domain": [-1.795, 0.94], "nice": false, "zero": false}, "axis": null}
          }
        },
        {
          "mark": {"type": "line", "color": "#ff2424", "strokeWidth": 2, "strokeDash": [6, 4]},
          "encoding": {
            "x": {"field": "hour", "type": "quantitative", "scale": {"domain": [7.1406, 39.8594], "nice": false, "zero": false},
              "axis": {"orient": "bottom", "values": [8.5,10.5,12.5,14.5,16.5,18.5,20.5,22.5,24.5,26.5,28.5,30.5,32.5,34.5,36.5,38.5], "labelExpr": "(datum.value < 24 ? '29 Mar ' : '30 Mar ') + (floor(datum.value % 24) < 10 ? '0' : '') + floor(datum.value % 24) + ':30'", "labelAlign": "left", "labelDx": -4, "labelFontSize": 17, "labelFlush": false, "labelOverlap": false, "grid": false, "tickSize": 7, "labelPadding": 3, "title": null}},
            "y": {"field": "signal", "type": "quantitative", "scale": {"domain": [-1.795, 0.94], "nice": false, "zero": false}, "axis": null}
          }
        },
        {
          "data": {"values": [{"value": 0.91, "label": "0.91"}]},
          "mark": {"type": "text", "align": "left", "baseline": "top", "font": "DejaVu Sans Condensed, DejaVu Sans", "fontSize": 16, "color": "#ffffff", "clip": false},
          "encoding": {
            "x": {"datum": 40.03, "type": "quantitative", "scale": {"domain": [7.1406, 39.8594], "nice": false, "zero": false}, "axis": null},
            "y": {"field": "value", "type": "quantitative", "scale": {"domain": [-1.795, 0.94], "nice": false, "zero": false}, "axis": null},
            "text": {"field": "label"}
          }
        },
        {
          "data": {"values": [{"value": 0, "label": "0.00"}]},
          "mark": {"type": "text", "align": "left", "baseline": "middle", "font": "DejaVu Sans Condensed, DejaVu Sans", "fontSize": 16, "color": "#ffffff", "clip": false},
          "encoding": {
            "x": {"datum": 40.03, "type": "quantitative", "scale": {"domain": [7.1406, 39.8594], "nice": false, "zero": false}, "axis": null},
            "y": {"field": "value", "type": "quantitative", "scale": {"domain": [-1.795, 0.94], "nice": false, "zero": false}, "axis": null},
            "text": {"field": "label"}
          }
        },
        {
          "data": {"values": [{"value": -1.795, "label": "-1.795"}]},
          "mark": {"type": "text", "align": "left", "baseline": "bottom", "font": "DejaVu Sans Condensed, DejaVu Sans", "fontSize": 16, "color": "#ffffff", "clip": false},
          "encoding": {
            "x": {"datum": 40.03, "type": "quantitative", "scale": {"domain": [7.1406, 39.8594], "nice": false, "zero": false}, "axis": null},
            "y": {"field": "value", "type": "quantitative", "scale": {"domain": [-1.795, 0.94], "nice": false, "zero": false}, "axis": null},
            "text": {"field": "label"}
          }
        },
        {
          "data": {"values": [{"label": "MACD", "hour": 27.30, "value": -1.074}]},
          "mark": {"type": "text", "align": "left", "baseline": "middle", "font": "Liberation Sans", "fontSize": 56, "color": "#ffffff"},
          "encoding": {
            "x": {"field": "hour", "type": "quantitative", "scale": {"domain": [7.1406, 39.8594], "nice": false, "zero": false}, "axis": null},
            "y": {"field": "value", "type": "quantitative", "scale": {"domain": [-1.795, 0.94], "nice": false, "zero": false}, "axis": null},
            "text": {"field": "label"}
          }
        }
      ]
    }
  ]
}
